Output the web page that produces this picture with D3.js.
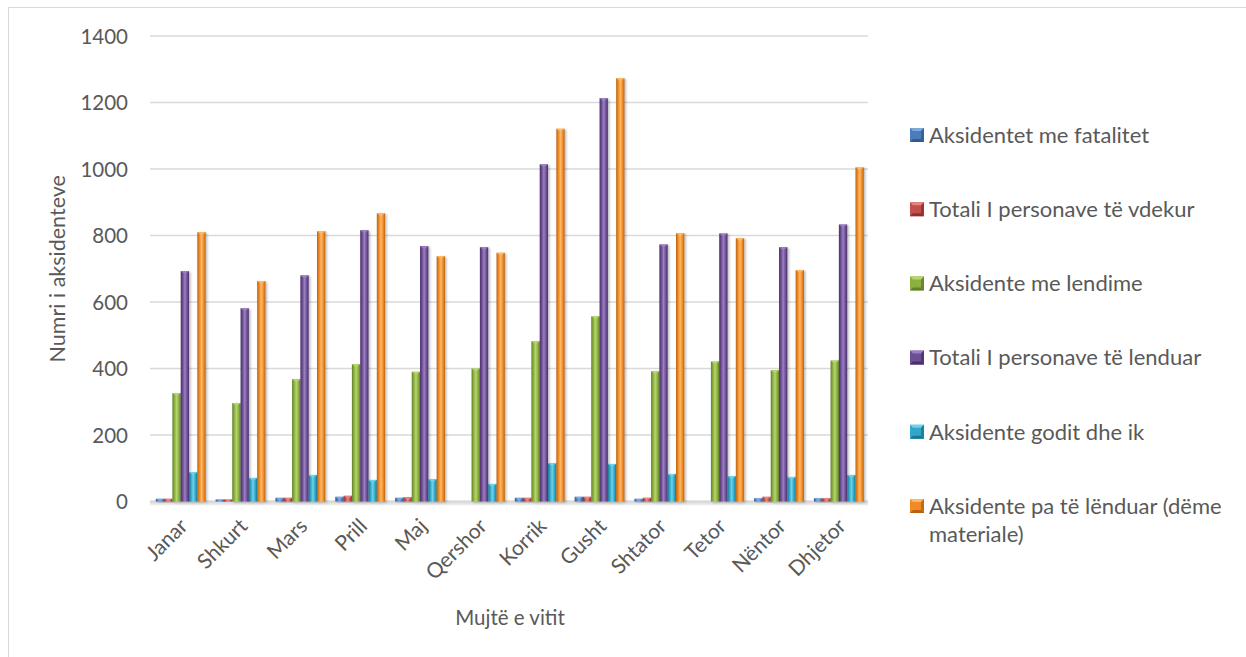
<!DOCTYPE html>
<html>
<head>
<meta charset="utf-8">
<script src="https://cdn.jsdelivr.net/npm/d3@7"></script>
<style>
  html, body { margin: 0; padding: 0; background: #fff; }
  svg { display: block; }
  text { font-family: Lato, "Liberation Sans", sans-serif; fill: #595959; }
</style>
</head>
<body>
<svg id="chart" width="1246" height="657"></svg>
<script>
// Muajt e vitit
const months = ["Janar","Shkurt","Mars","Prill","Maj","Qershor","Korrik","Gusht","Shtator","Tetor","Nëntor","Dhjetor"];

// Seritë
const seriesNames = [
  "Aksidentet me fatalitet",
  "Totali I personave të vdekur",
  "Aksidente me lendime",
  "Totali I personave të lenduar",
  "Aksidente godit dhe ik",
  "Aksidente pa të lënduar (dëme materiale)"
];
const fatalitet = [8, 6, 11, 14, 11, 0, 11, 14, 8, 0, 10, 10];
const vdekur    = [8, 6, 11, 17, 13, 0, 11, 14, 11, 0, 14, 10];
const lendime   = [326, 296, 368, 413, 390, 400, 482, 557, 392, 421, 395, 424];
const lenduar   = [693, 581, 680, 816, 768, 765, 1014, 1213, 773, 806, 765, 833];
const godit     = [88, 71, 80, 65, 67, 53, 115, 113, 83, 76, 74, 80];
const paLenduar = [810, 663, 813, 867, 738, 748, 1121, 1273, 807, 792, 696, 1005];

const yTicks = [0, 200, 400, 600, 800, 1000, 1200, 1400];

const seriesValues = [fatalitet, vdekur, lendime, lenduar, godit, paLenduar];
const colors = [
  {base: "#4a7ebb", light: "#7fa7dd", dark: "#2f5b91"},
  {base: "#c0504d", light: "#e58582", dark: "#8f302e"},
  {base: "#8bb03e", light: "#b5d56e", dark: "#61802a"},
  {base: "#6d4f94", light: "#9c7fc3", dark: "#4a3068"},
  {base: "#31a8c8", light: "#6fd1ea", dark: "#1d7791"},
  {base: "#ef8a25", light: "#ffb866", dark: "#b8620f"}
];

const svg = d3.select("#chart");
const defs = svg.append("defs");

// Outer chart frame
svg.append("rect")
  .attr("x", 8.5).attr("y", 7.5)
  .attr("width", 1260).attr("height", 680)
  .attr("fill", "#fff").attr("stroke", "#d9d9d9").attr("stroke-width", 1);

const plot = {left: 150, right: 868, top: 36, bottom: 501.5};

const x0 = d3.scaleBand().domain(months).range([plot.left, plot.right]).padding(0);
const x1 = d3.scaleBand().domain(d3.range(seriesNames.length))
  .range([5.8, x0.bandwidth() - 4.2]).padding(0);
const y = d3.scaleLinear().domain([0, 1400]).range([plot.bottom, plot.top]);

// Gradients for the rounded bar look
colors.forEach((c, i) => {
  const g = defs.append("linearGradient").attr("id", "bar" + i)
    .attr("x1", "0").attr("x2", "1").attr("y1", "0").attr("y2", "0");
  g.append("stop").attr("offset", "0%").attr("stop-color", c.dark);
  g.append("stop").attr("offset", "25%").attr("stop-color", c.base);
  g.append("stop").attr("offset", "50%").attr("stop-color", c.light);
  g.append("stop").attr("offset", "78%").attr("stop-color", c.base);
  g.append("stop").attr("offset", "100%").attr("stop-color", c.dark);
});

const shadow = defs.append("filter").attr("id", "shadow")
  .attr("x", "-50%").attr("y", "-10%").attr("width", "200%").attr("height", "130%");
shadow.append("feDropShadow").attr("dx", 1.5).attr("dy", 1).attr("stdDeviation", 1.2)
  .attr("flood-color", "#000").attr("flood-opacity", 0.28);

const floorGrad = defs.append("linearGradient").attr("id", "floor")
  .attr("x1", "0").attr("x2", "0").attr("y1", "0").attr("y2", "1");
floorGrad.append("stop").attr("offset", "0%").attr("stop-color", "#d0d0d0");
floorGrad.append("stop").attr("offset", "100%").attr("stop-color", "#f2f2f2");

// Horizontal gridlines
svg.append("g").selectAll("line")
  .data(yTicks.filter(d => d > 0))
  .join("line")
  .attr("x1", plot.left).attr("x2", plot.right)
  .attr("y1", d => y(d)).attr("y2", d => y(d))
  .attr("stroke", "#d9d9d9").attr("stroke-width", 1.5);

// Floor under the bars
svg.append("rect")
  .attr("x", plot.left).attr("y", y(0) - 1)
  .attr("width", plot.right - plot.left).attr("height", 5)
  .attr("fill", "url(#floor)");

// Y axis labels
const yAxis = d3.axisLeft(y).tickValues(yTicks).tickFormat(d3.format("d"))
  .tickSize(0).tickPadding(0);
const gy = svg.append("g").attr("transform", `translate(128,0)`).call(yAxis);
gy.select(".domain").remove();
gy.selectAll("text")
  .attr("font-size", 20.5).attr("fill", "#595959")
  .style("font-family", "Lato, sans-serif")
  .attr("dy", "0.35em");

// Bars
const groups = svg.append("g").selectAll("g")
  .data(months)
  .join("g")
  .attr("transform", d => `translate(${x0(d)},0)`);

groups.each(function(m, mi) {
  const g = d3.select(this);
  seriesValues.forEach((vals, si) => {
    const v = vals[mi];
    if (!v) return;
    const bx = x1(si), bw = x1.bandwidth();
    const top = y(v), h = y(0) - y(v);
    const bar = g.append("g").attr("filter", "url(#shadow)");
    bar.append("rect")
      .attr("x", bx).attr("y", top)
      .attr("width", bw).attr("height", h)
      .attr("fill", `url(#bar${si})`);
    // bevelled cap
    const cap = Math.min(3, h);
    bar.append("polygon")
      .attr("points", [
        [bx, top], [bx + bw, top], [bx + bw * 0.5, top + cap]
      ].map(p => p.join(",")).join(" "))
      .attr("fill", colors[si].light).attr("opacity", 0.95);
  });
});

// X axis labels
const gx = svg.append("g");
gx.selectAll("text")
  .data(months)
  .join("text")
  .attr("text-anchor", "end")
  .attr("font-size", 21)
  .attr("transform", d => `translate(${x0(d) + x0.bandwidth() / 2 + 9},${plot.bottom + 26}) rotate(-45)`)
  .text(d => d);

// Axis titles
svg.append("text")
  .attr("transform", `translate(65,${(plot.top + plot.bottom) / 2}) rotate(-90)`)
  .attr("text-anchor", "middle").attr("font-size", 21.5)
  .text("Numri i aksidenteve");

svg.append("text")
  .attr("x", 510).attr("y", 625)
  .attr("text-anchor", "middle").attr("font-size", 20.5)
  .text("Mujtë e vitit");

// Legend
const legendY = d3.scalePoint().domain(d3.range(seriesNames.length)).range([135, 506]);
const lg = svg.append("g").selectAll("g")
  .data(seriesNames)
  .join("g")
  .attr("transform", (d, i) => `translate(910,${legendY(i)})`);

lg.each(function(name, i) {
  const g = d3.select(this);
  const s = 14, c = colors[i];
  g.append("rect").attr("x", 0).attr("y", -s / 2).attr("width", s).attr("height", s)
    .attr("fill", c.base);
  g.append("polygon")
    .attr("points", `0,${-s/2} ${s},${-s/2} ${s-3},${-s/2+3} 3,${-s/2+3}`)
    .attr("fill", c.light);
  g.append("polygon")
    .attr("points", `0,${s/2} ${s},${s/2} ${s-3},${s/2-3} 3,${s/2-3}`)
    .attr("fill", c.dark);
  g.append("polygon")
    .attr("points", `${s},${-s/2} ${s},${s/2} ${s-3},${s/2-3} ${s-3},${-s/2+3}`)
    .attr("fill", c.dark).attr("opacity", 0.8);
  const t = g.append("text").attr("x", 19).attr("font-size", 22).attr("dy", "0.35em");
  if (name.length > 33) {
    t.text("Aksidente pa të lënduar (dëme");
    g.append("text").attr("x", 19).attr("y", 28).attr("font-size", 22).attr("dy", "0.35em")
      .text("materiale)");
  } else {
    t.text(name);
  }
});
</script>
</body>
</html>
